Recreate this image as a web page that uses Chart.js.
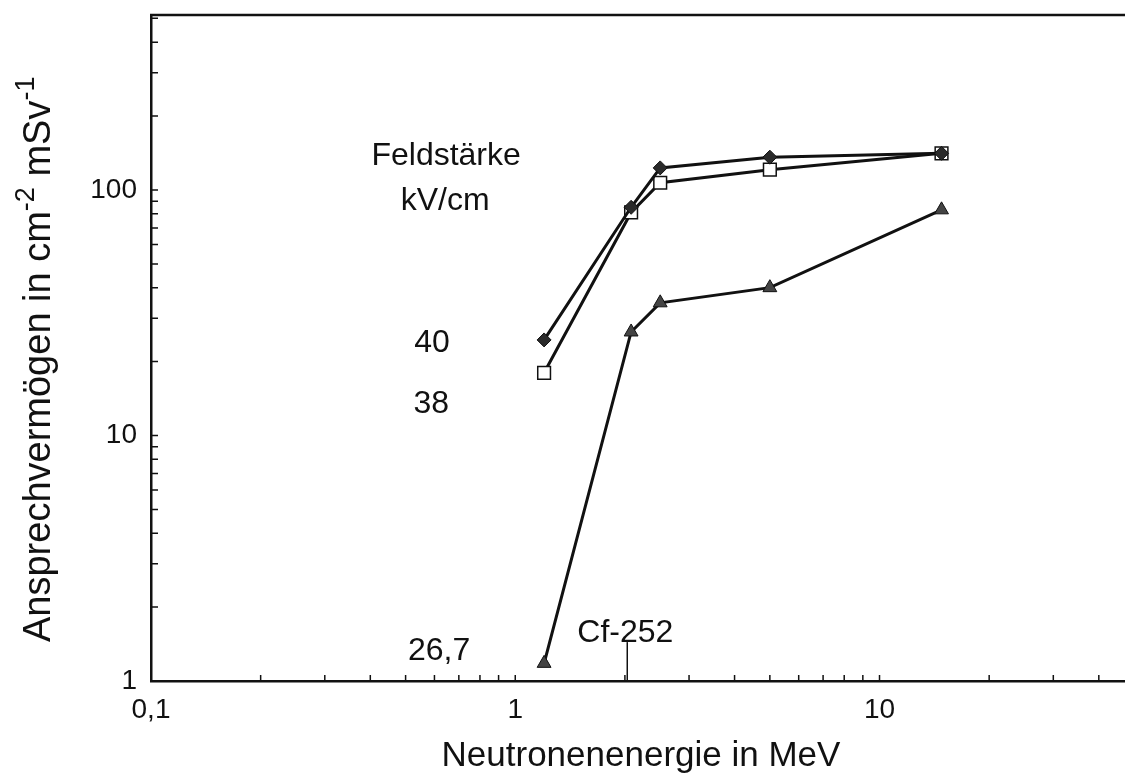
<!DOCTYPE html>
<html>
<head>
<meta charset="utf-8">
<title>Ansprechvermögen</title>
<script src="https://cdn.jsdelivr.net/npm/chart.js@4.4.0/dist/chart.umd.min.js"></script>
<style>
  html, body { margin: 0; padding: 0; background: #fff; overflow: hidden; }
  #wrap { width: 1125px; height: 776px; position: relative; }
  canvas { display: block; }
</style>
</head>
<body>
<div id="wrap"><canvas id="chart"></canvas></div>
<script>
// Neutronenenergie in MeV
const energies = [1.2, 2.08, 2.5, 5, 14.8];
// Ansprechvermoegen in cm-2 mSv-1, one list per field strength
const resp40 = [24.5, 85, 123, 136, 141];
const resp38 = [18, 81, 107, 121, 141];
const resp267 = [1.18, 26.4, 34.7, 40, 83];
const fieldLabels = ['40', '38', '26,7'];

// Cf-252 reference energy and the height of its marker
const cfEnergy = 2.03;
const cfMarker = [1, 1.44];

const xTickValues = [0.1, 1, 10];
const xTickLabels = ['0,1', '1', '10'];
const yTickValues = [1, 10, 100];
const yTickLabels = ['1', '10', '100'];

const FONT = "'Liberation Sans', Arial, Helvetica, sans-serif";
const INK = '#111';

// text placed in data units (energy, response)
const notes = [
  { text: 'Feldstärke', x: 0.646, y: 126 },
  { text: 'kV/cm', x: 0.642, y: 83 },
  { text: fieldLabels[0], x: 0.591, y: 21.9 },
  { text: fieldLabels[1], x: 0.588, y: 12.35 },
  { text: fieldLabels[2], x: 0.618, y: 1.218 },
  { text: 'Cf-252', x: 2.005, y: 1.441 }
];

function toPoints(ys) {
  return energies.map((e, i) => ({ x: e, y: ys[i] }));
}

function isNice(v) {
  const e = Math.floor(Math.log10(v) + 1e-9);
  const s = v / Math.pow(10, e);
  return Math.abs(s - Math.round(s)) < 1e-6;
}

function tickText(values, labels) {
  return function (v) {
    const i = values.findIndex(t => Math.abs(t - v) < 1e-9);
    return i >= 0 ? labels[i] : '';
  };
}

const decorations = {
  id: 'decorations',
  afterDraw(chart) {
    const { ctx, chartArea: a, scales: { x, y } } = chart;
    ctx.save();

    // top frame line
    ctx.strokeStyle = INK;
    ctx.lineWidth = 2.5;
    ctx.beginPath();
    ctx.moveTo(a.left - 1, a.top);
    ctx.lineTo(a.right, a.top);
    ctx.stroke();

    // minor ticks pointing into the plot
    ctx.lineWidth = 1.5;
    ctx.beginPath();
    x.ticks.forEach(t => {
      if (!isNice(t.value) || t.value <= x.min) return;
      const px = x.getPixelForValue(t.value);
      ctx.moveTo(px, a.bottom);
      ctx.lineTo(px, a.bottom - 6);
    });
    y.ticks.forEach(t => {
      if (!isNice(t.value) || t.value <= y.min) return;
      const py = y.getPixelForValue(t.value);
      ctx.moveTo(a.left, py);
      ctx.lineTo(a.left + 7, py);
    });
    ctx.stroke();

    // annotations
    ctx.fillStyle = INK;
    ctx.textAlign = 'center';
    ctx.textBaseline = 'alphabetic';
    ctx.font = '32px ' + FONT;
    notes.forEach(n => {
      ctx.fillText(n.text, x.getPixelForValue(n.x), y.getPixelForValue(n.y));
    });

    // x title
    ctx.font = '35px ' + FONT;
    ctx.fillText('Neutronenenergie in MeV', 641, 766);

    // y title with superscripts
    const parts = [
      { t: 'Ansprechvermögen in cm', sup: false },
      { t: '-2', sup: true },
      { t: ' mSv', sup: false },
      { t: '-1', sup: true }
    ];
    ctx.translate(50, 642);
    ctx.rotate(-Math.PI / 2);
    ctx.textAlign = 'left';
    let u = 0;
    parts.forEach(p => {
      const size = p.sup ? 27 : 38;
      ctx.font = size + 'px ' + FONT;
      ctx.fillText(p.t, u, p.sup ? -16 : 0);
      u += ctx.measureText(p.t).width;
    });

    ctx.restore();
  }
};

new Chart(document.getElementById('chart'), {
  type: 'scatter',
  data: {
    datasets: [
      {
        label: '40 kV/cm',
        data: toPoints(resp40),
        showLine: true,
        borderColor: INK,
        borderWidth: 3,
        pointStyle: 'rectRot',
        pointRadius: 7,
        pointBackgroundColor: '#2a2a2a',
        pointBorderColor: INK,
        pointBorderWidth: 1
      },
      {
        label: '38 kV/cm',
        data: toPoints(resp38),
        showLine: true,
        borderColor: INK,
        borderWidth: 3,
        pointStyle: 'rect',
        pointRadius: 9,
        pointBackgroundColor: '#fff',
        pointBorderColor: INK,
        pointBorderWidth: 1.5
      },
      {
        label: '26,7 kV/cm',
        data: toPoints(resp267),
        showLine: true,
        borderColor: INK,
        borderWidth: 3,
        pointStyle: 'triangle',
        pointRadius: 8,
        pointBackgroundColor: '#444',
        pointBorderColor: INK,
        pointBorderWidth: 1
      },
      {
        label: 'Cf-252',
        data: cfMarker.map(v => ({ x: cfEnergy, y: v })),
        showLine: true,
        borderColor: INK,
        borderWidth: 1.5,
        pointRadius: 0
      }
    ]
  },
  options: {
    responsive: true,
    maintainAspectRatio: false,
    animation: false,
    layout: { autoPadding: false, padding: { top: 15, right: 0, left: 0, bottom: 0 } },
    plugins: {
      legend: { display: false },
      tooltip: { enabled: false }
    },
    scales: {
      x: {
        type: 'logarithmic',
        min: 0.1,
        max: 47.2,
        afterFit(scale) {
          scale.height = 95;
          scale.paddingLeft = 0;
          scale.paddingRight = 0;
        },
        grid: { display: false, drawTicks: false },
        border: { display: true, color: INK, width: 2.5 },
        ticks: {
          autoSkip: false,
          maxRotation: 0,
          minRotation: 0,
          padding: 12,
          color: INK,
          font: { family: FONT, size: 28 },
          callback: tickText(xTickValues, xTickLabels)
        }
      },
      y: {
        type: 'logarithmic',
        min: 1,
        max: 516,
        afterFit(scale) {
          scale.width = 151;
          scale.paddingTop = 0;
          scale.paddingBottom = 0;
        },
        grid: { display: false, drawTicks: false },
        border: { display: true, color: INK, width: 2.5 },
        ticks: {
          autoSkip: false,
          padding: 14,
          color: INK,
          font: { family: FONT, size: 28 },
          callback: tickText(yTickValues, yTickLabels)
        }
      }
    }
  },
  plugins: [decorations]
});
</script>
</body>
</html>
